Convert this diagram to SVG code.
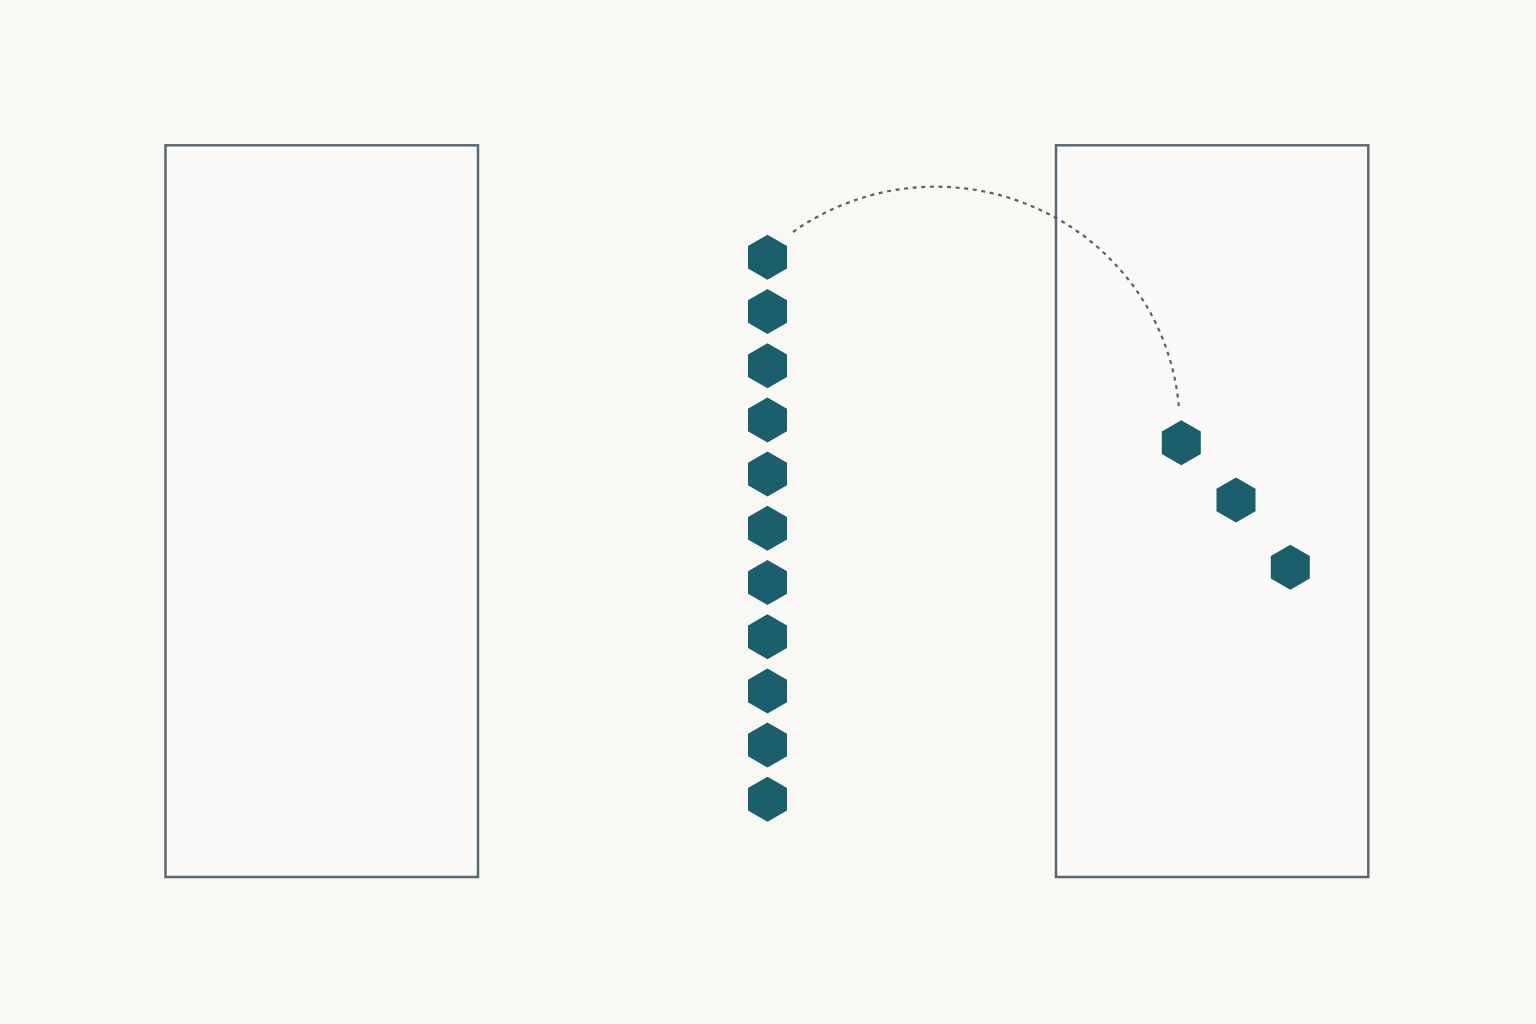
<svg xmlns="http://www.w3.org/2000/svg" width="1536" height="1024" viewBox="0 0 1536 1024">
  <style>
    .box { fill: #fbfaf8; stroke: #5b6872; stroke-width: 2.5; }
    .hex { fill: #1b5f6d; }
    .arc { fill: none; stroke: #5d6166; stroke-width: 2.2; stroke-dasharray: 4 4.6; }
  </style>
  <defs>
    <polygon id="h" points="0,-22.5 19.5,-11.25 19.5,11.25 0,22.5 -19.5,11.25 -19.5,-11.25"/>
  </defs>
  <rect width="1536" height="1024" fill="#f9f8f5"/>
  <g id="box-left"><rect class="box" x="165.5" y="145.3" width="312.5" height="731.7"/></g>
  <g id="box-right"><rect class="box" x="1056" y="145.3" width="312.3" height="731.7"/></g>
  <g id="stack">
    <use href="#h" class="hex" x="767.5" y="257.3"/>
    <use href="#h" class="hex" x="767.5" y="311.5"/>
    <use href="#h" class="hex" x="767.5" y="365.7"/>
    <use href="#h" class="hex" x="767.5" y="419.9"/>
    <use href="#h" class="hex" x="767.5" y="474.1"/>
    <use href="#h" class="hex" x="767.5" y="528.3"/>
    <use href="#h" class="hex" x="767.5" y="582.5"/>
    <use href="#h" class="hex" x="767.5" y="636.7"/>
    <use href="#h" class="hex" x="767.5" y="690.9"/>
    <use href="#h" class="hex" x="767.5" y="745.1"/>
    <use href="#h" class="hex" x="767.5" y="799.3"/>
  </g>
  <g id="moved">
    <use href="#h" class="hex" x="1181.3" y="442.8"/>
    <use href="#h" class="hex" x="1236" y="500"/>
    <use href="#h" class="hex" x="1290.3" y="567.2"/>
  </g>
  <g id="connectors">
    <path class="arc" d="M793,232 A244 240 0 0 1 1179,409"/>
  </g>
</svg>
